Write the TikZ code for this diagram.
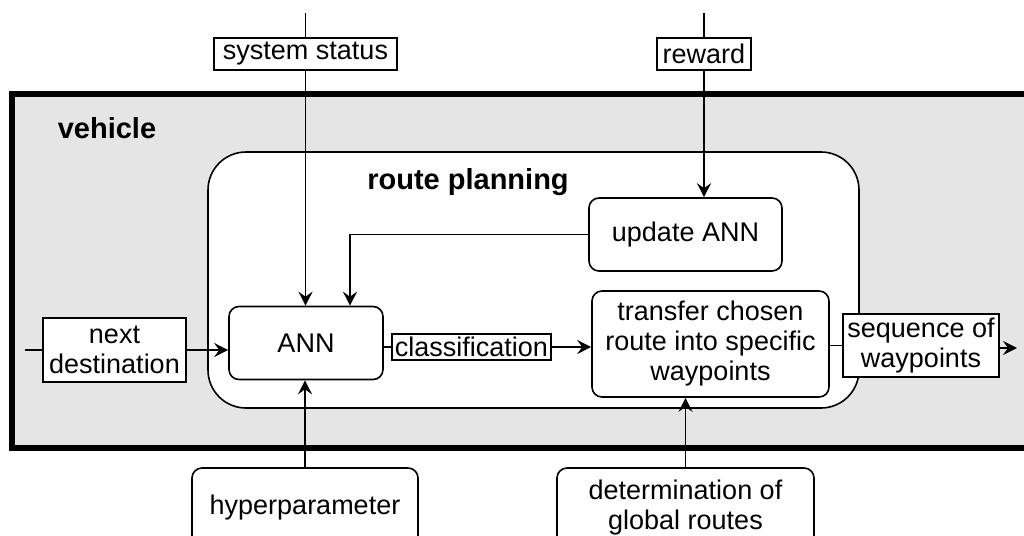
\documentclass[tikz,border=0pt]{standalone}
\usepackage{fontspec}
\setmainfont{Liberation Sans}
\usetikzlibrary{arrows.meta}

\tikzset{
  blockbox/.style={draw,fill=white,rounded corners=5pt,line width=.8pt,align=center,inner sep=0pt},
  tagbox/.style={draw,fill=white,line width=.8pt,align=center,inner sep=1.5pt},
  flow/.style={line width=.8pt,->},
  titletext/.style={font=\bfseries\fontsize{14.5}{17}\selectfont},
}

\begin{document}
\begin{tikzpicture}[x=.5pt,y=-.5pt,font=\fontsize{13.5}{15}\selectfont,
    >={Stealth[length=7pt,width=7pt,inset=2.5pt]}]
      \useasboundingbox (0,0) rectangle (1024,536);
      \clip (0,0) rectangle (1024,536);
      % vehicle
      \draw[line width=2.8pt,fill=black!10] (12,94) rectangle (1045,448);
      \node[titletext] (veh) at (107,128) {vehicle};
      % route planning
      \draw[line width=.8pt,fill=white,rounded corners=19pt] (208,152) rectangle (859,408);
      \node[titletext] (plan) at (468,182) {route planning};
      % blocks
      \node[blockbox,minimum width=77pt,minimum height=36.5pt] (ann) at (306,343) {ANN};
      \node[blockbox,minimum width=96.5pt,minimum height=36.5pt] (upd) at (685.5,234.5) {update ANN};
      \node[blockbox,minimum width=118.5pt,minimum height=53pt] (trans) at (710.5,344) {transfer chosen\\route into specific\\waypoints};
      \node[blockbox,minimum width=113pt,minimum height=40pt] (hyper) at (305,508) {hyperparameter};
      \node[blockbox,minimum width=128.5pt,minimum height=40pt] (glob) at (685.5,508) {determination of\\global routes};
      % labels
      \node[tagbox,minimum width=91.5pt,minimum height=16pt] (sys) at (305.5,54) {system status};
      \node[tagbox,minimum width=47pt,minimum height=16pt] (rew) at (704,54) {reward};
      \node[tagbox,minimum width=71.5pt,minimum height=32pt] (dest) at (114.5,350) {next\\destination};
      \node[tagbox,minimum width=78pt,minimum height=12pt] (cls) at (471.5,347) {classification};
      \node[tagbox,minimum width=78pt,minimum height=31.5pt] (seq) at (921,345.5) {sequence of\\waypoints};
      \coordinate (sysin) at (305.5,13);
      \coordinate (rewin) at (704,13);
      \coordinate (destin) at (25,350);
      \coordinate (seqout) at (1017,348);
      \coordinate (bend) at (350,234.5);
      % connectors
      \draw[line width=.8pt] (sysin) -- (sys.north);
      \draw[flow] (sys.south) -- (sys.south |- ann.north);
      \draw[line width=.8pt] (rewin) -- (rew.north);
      \draw[flow] (rew.south) -- (rew.south |- upd.north);
      \draw[flow] (upd.west) -- (bend) -- (bend |- ann.north);
      \draw[line width=.8pt] (destin) -- (dest.west |- destin);
      \draw[flow] (dest.east |- destin) -- (ann.west |- destin);
      \draw[line width=.8pt] (ann.east |- cls) -- (cls.west);
      \draw[flow] (cls.east) -- (trans.west |- cls);
      \draw[line width=.8pt] (trans.east |- seq) -- (seq.west);
      \draw[flow] (seq.east |- seqout) -- (seqout);
      \draw[flow] (hyper.north) -- (hyper.north |- ann.south);
      \draw[flow] (glob.north) -- (glob.north |- trans.south);
    \end{tikzpicture}
\end{document}
